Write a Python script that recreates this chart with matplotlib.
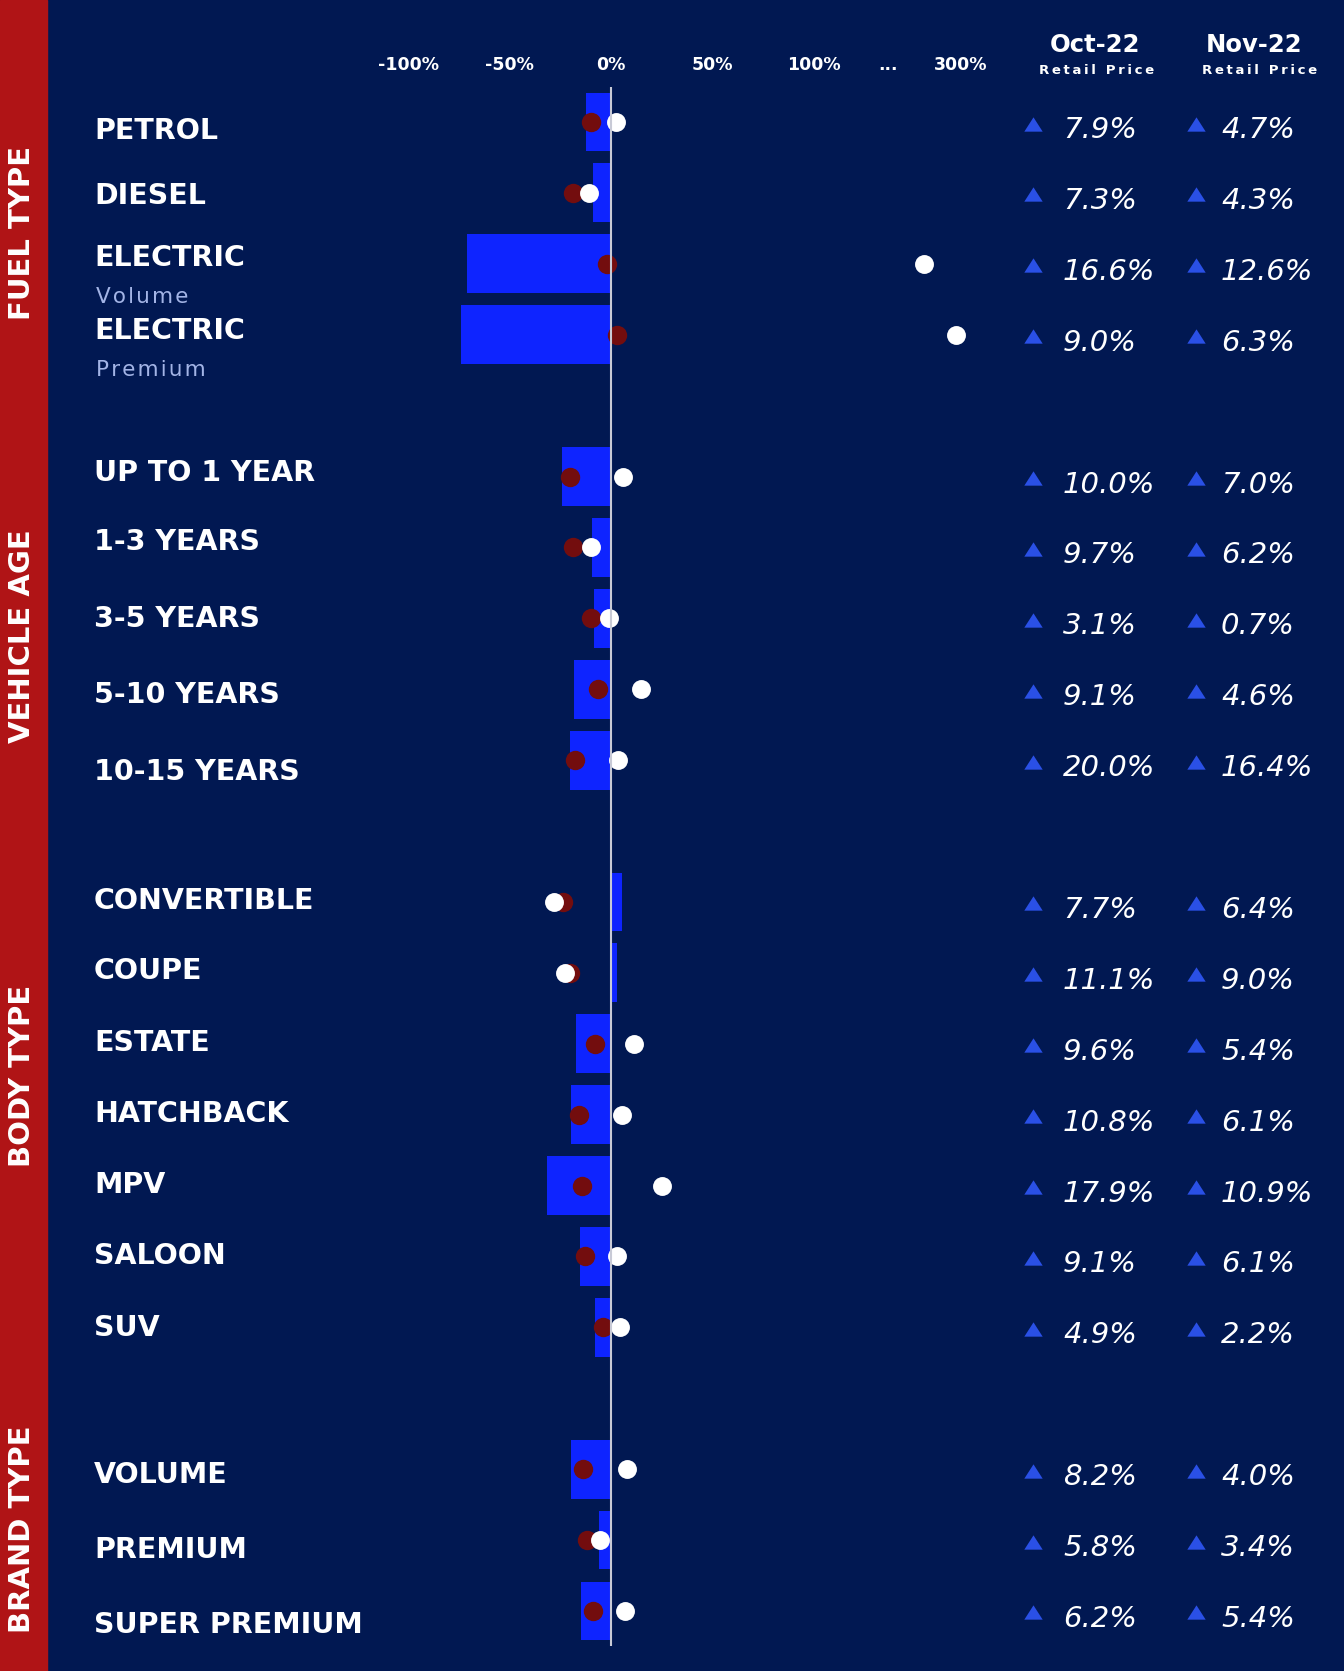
import numpy as np
import matplotlib
matplotlib.use("Agg")
import matplotlib.pyplot as plt
import matplotlib.transforms as mtransforms
from matplotlib.patches import Rectangle
from matplotlib.path import Path

# 数据
groups = ["FUEL TYPE", "VEHICLE AGE", "BODY TYPE", "BRAND TYPE"]
group_sizes = [4, 5, 7, 3]
categories = ["PETROL", "DIESEL", "ELECTRIC", "ELECTRIC",
              "UP TO 1 YEAR", "1-3 YEARS", "3-5 YEARS", "5-10 YEARS", "10-15 YEARS",
              "CONVERTIBLE", "COUPE", "ESTATE", "HATCHBACK", "MPV", "SALOON", "SUV",
              "VOLUME", "PREMIUM", "SUPER PREMIUM"]
sublabels = ["", "", "Volume", "Premium"] + [""] * 15
bar_values = [-12.2, -9.0, -71.0, -74.0,
              -24.0, -9.5, -8.5, -18.4, -20.0,
              5.5, 3.0, -17.2, -19.7, -31.4, -15.3, -7.7,
              -19.7, -6.1, -14.9]
red_values = [-10.0, -19.0, -2.0, 3.0,
              -20.0, -18.6, -9.9, -6.6, -17.6,
              -23.8, -20.0, -7.9, -15.8, -14.3, -13.0, -4.1,
              -14.0, -11.7, -9.0]
white_values = [2.5, -11.0, 250.0, 293.0,
                5.9, -9.7, -1.2, 14.6, 3.3,
                -28.0, -22.7, 11.5, 5.3, 25.1, 3.0, 4.3,
                7.7, -5.6, 7.0]
oct_values = [7.9, 7.3, 16.6, 9.0, 10.0, 9.7, 3.1, 9.1, 20.0,
              7.7, 11.1, 9.6, 10.8, 17.9, 9.1, 4.9, 8.2, 5.8, 6.2]
nov_values = [4.7, 4.3, 12.6, 6.3, 7.0, 6.2, 0.7, 4.6, 16.4,
              6.4, 9.0, 5.4, 6.1, 10.9, 6.1, 2.2, 4.0, 3.4, 5.4]
tick_values = [-100, -50, 0, 50, 100, 200, 300]
tick_labels = ["-100%", "-50%", "0%", "50%", "100%", "...", "300%"]

# 版式
W, H = 1344, 1671
BG = "#011852"
RED = "#b01416"
BLUE = "#0e24ff"
DOTRED = "#730d0e"
TRI = "#2a50e6"
SUB = "#a3b4e6"
label_dy = [6.7, 0.5, -8.5, -6, -6.4, -7.5, -2, 3, 9.6,
            -3.2, -4.3, -3.2, -3.2, -3.2, -3.2, -2, 3.2, 7.5, 11.7]
group_y = [233, 636, 1076, 1529]

# 行位置：组之间空一行
slots = []
k = 0
for n in group_sizes:
    slots += list(range(k, k + n))
    k += n + 1
slots = np.array(slots)

fig = plt.figure(figsize=(W / 100, H / 100), dpi=100, facecolor=BG)
ax = fig.add_axes([0, 0, 1, 1])
ax.set_facecolor("none")
ax.set_axis_off()

# 断轴：100% 以上压缩
K = 0.362
def fwd(x):
    x = np.asarray(x, float)
    return np.where(x <= 100, x, 100 + (x - 100) * K)
def inv(t):
    t = np.asarray(t, float)
    return np.where(t <= 100, t, 100 + (t - 100) / K)
ax.set_xscale("function", functions=(fwd, inv))

ax.barh(slots, bar_values, height=0.83, color=BLUE, zorder=1)
ax.scatter(red_values, slots, s=195, color=DOTRED, linewidths=0, zorder=2)
ax.scatter(white_values, slots, s=185, color="white", linewidths=0, zorder=3)
ax.vlines(0, -0.49, 21.5, color="#c8cad6", lw=1.5, zorder=4)

ax.set_xlim(-301, 821)
ax.set_ylim(21.847, -1.7207)

# 左侧红色竖条
fig.add_artist(Rectangle((0, 0), 47 / W, 1, transform=fig.transFigure, color=RED, zorder=0))
for g, gy in zip(groups, group_y):
    fig.text(22 / W, 1 - gy / H, g, rotation=90, ha="center", va="center",
             color="white", fontsize=21, fontweight="bold")

def track(s, sp="\u200a"):
    return sp.join(s)

blend = mtransforms.blended_transform_factory(fig.transFigure, ax.transData)
def at(dy):
    return mtransforms.offset_copy(blend, fig=fig, x=0, y=-dy, units="dots")

for i, kk in enumerate(slots):
    ax.text(94 / W, kk, categories[i], transform=at(label_dy[i] + 10.5), ha="left",
            va="baseline", fontsize=20.5, fontweight="bold", color="white")
    if sublabels[i]:
        ax.text(96 / W, kk, track(sublabels[i]), transform=at(label_dy[i] + 47.5),
                ha="left", va="baseline", fontsize=15.5, color=SUB)
    ax.text(1063 / W, kk, f"{oct_values[i]:.1f}%", transform=at(16), ha="left",
            va="baseline", fontsize=21, style="italic", color="white")
    ax.text(1221 / W, kk, f"{nov_values[i]:.1f}%", transform=at(16), ha="left",
            va="baseline", fontsize=21, style="italic", color="white")

tri = Path([(-1, -0.78), (1, -0.78), (0, 0.78), (-1, -0.78)],
           [Path.MOVETO, Path.LINETO, Path.LINETO, Path.CLOSEPOLY])
for xp in (1033, 1196):
    ax.scatter(np.full(len(slots), xp / W), slots, marker=tri, s=175, color=TRI,
               linewidths=0, transform=at(1.5), zorder=5)

# 顶部刻度与表头
tick_tr = mtransforms.blended_transform_factory(ax.transData, fig.transFigure)
for tv, tl in zip(tick_values, tick_labels):
    ax.text(tv, 1 - 70 / H, tl, transform=tick_tr, ha="center", va="baseline",
            fontsize=12.5, fontweight="bold", color="white")

for cx, cx2, title in [(1095, 1097, "Oct-22"), (1254.5, 1260, "Nov-22")]:
    fig.text(cx / W, 1 - 52 / H, title, ha="center", va="baseline",
             fontsize=17.5, fontweight="bold", color="white")
    fig.text(cx2 / W, 1 - 74 / H, track("Retail Price", "\u2009"), ha="center",
             va="baseline", fontsize=9.5, fontweight="bold", color="white")

fig.savefig("out.png", dpi=100, facecolor=BG)
